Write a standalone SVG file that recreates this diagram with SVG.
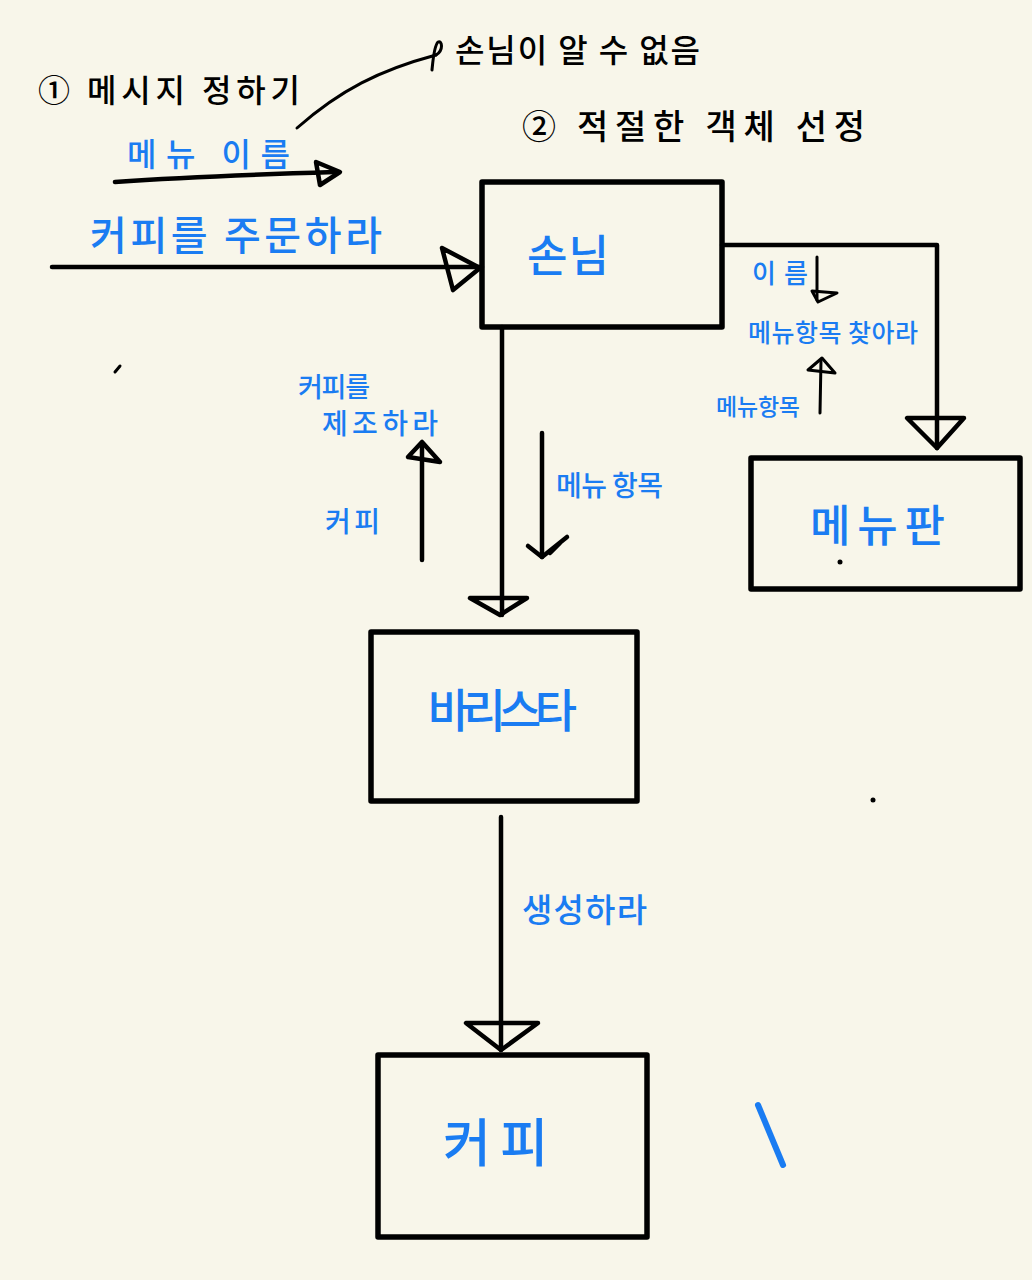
<svg xmlns="http://www.w3.org/2000/svg" width="1032" height="1280" viewBox="0 0 1032 1280">
<style>
.box{fill:none;stroke:#000;stroke-width:5.5;stroke-linejoin:round}
.ln{fill:none;stroke:#000;stroke-width:4.5;stroke-linecap:round;stroke-linejoin:round}
.thin{fill:none;stroke:#000;stroke-width:3;stroke-linecap:round;stroke-linejoin:round}
.hd{fill:none;stroke:#000;stroke-width:4.5;stroke-linejoin:round;stroke-linecap:round}
.k{font-family:"Noto Sans CJK KR","Noto Sans",sans-serif;fill:#000;font-weight:500}
.b{font-family:"Noto Sans CJK KR","Noto Sans",sans-serif;fill:#1a7cf2;font-weight:500}
</style>
<rect width="1032" height="1280" fill="#f8f6ea"/>

<g id="annotations">
<text class="k" x="38" y="102" font-size="32" textLength="262" lengthAdjust="spacing">① 메시지 정하기</text>
<text class="k" x="455" y="62" font-size="32" textLength="245" lengthAdjust="spacing">손님이 알 수 없음</text>
<text class="k" x="522" y="139" font-size="34" textLength="343" lengthAdjust="spacing">② 적절한 객체 선정</text>
<path class="thin" d="M297 128 C340 90 380 70 436 55"/>
<path class="thin" d="M436 55 C444 50 442 40 438 42 C434 46 433 60 432 70"/>
<path class="thin" d="M115 372 L120 366"/>
<circle cx="840" cy="562" r="2.5" fill="#000"/>
<circle cx="873" cy="800" r="2.5" fill="#000"/>
<path d="M758 1105 L783 1165" stroke="#1a7cf2" stroke-width="6" stroke-linecap="round" fill="none"/>
</g>

<g id="connectors">
<path class="ln" d="M115 182 C200 176 270 174 338 172"/>
<path class="hd" d="M316 162 L340 172 L320 185 Z"/>
<path class="ln" d="M52 267 L482 267"/>
<path class="hd" d="M442 248 L480 268 L453 290 Z"/>
<path class="ln" d="M502 327 L502 615"/>
<path class="hd" d="M470 598 L527 598 L500 615 Z"/>
<path class="ln" d="M722 245 L937 245 L937 448"/>
<path class="hd" d="M907 418 L964 418 L937 448 Z"/>
<path class="ln" d="M501 817 L501 1050"/>
<path class="hd" d="M466 1023 L538 1023 L501 1050 Z"/>
<path class="ln" d="M422 560 L422 444"/>
<path class="hd" d="M422 442 L408 457 L440 462 Z"/>
<path class="ln" d="M542 433 L542 557"/>
<path class="hd" d="M528 546 L542 557 L567 537 M550 553 L560 543"/>
<path class="thin" d="M817 257 L817 300"/>
<path class="thin" d="M812 291 L837 293 L818 302 Z"/>
<path class="thin" d="M820 413 L821 360"/>
<path class="thin" d="M822 358 L808 370 L835 373 Z"/>
</g>

<g id="labels">
<text class="b" x="127" y="166" font-size="32" textLength="163" lengthAdjust="spacing">메뉴 이름</text>
<text class="b" x="90" y="250" font-size="40" textLength="292" lengthAdjust="spacing">커피를 주문하라</text>
<text class="b" x="752" y="283" font-size="26" textLength="56" lengthAdjust="spacing">이름</text>
<text class="b" x="748" y="342" font-size="25" textLength="170" lengthAdjust="spacing">메뉴항목 찾아라</text>
<text class="b" x="716" y="415" font-size="23" textLength="84" lengthAdjust="spacing">메뉴항목</text>
<text class="b" x="298" y="397" font-size="27" textLength="72" lengthAdjust="spacing">커피를</text>
<text class="b" x="322" y="434" font-size="28" textLength="116" lengthAdjust="spacing">제조하라</text>
<text class="b" x="325" y="532" font-size="28" textLength="55" lengthAdjust="spacing">커피</text>
<text class="b" x="556" y="496" font-size="28" textLength="107" lengthAdjust="spacing">메뉴 항목</text>
<text class="b" x="522" y="922" font-size="33" textLength="125" lengthAdjust="spacing">생성하라</text>
</g>

<g id="node-customer">
<rect class="box" x="482" y="182" width="240" height="145"/>
<text class="b" x="527" y="272" font-size="44" textLength="82" lengthAdjust="spacing">손님</text>
</g>
<g id="node-menu">
<rect class="box" x="751" y="458" width="269" height="131"/>
<text class="b" x="810" y="542" font-size="44" textLength="135" lengthAdjust="spacing">메뉴판</text>
</g>
<g id="node-barista">
<rect class="box" x="371" y="632" width="266" height="169"/>
<text class="b" x="428" y="727" font-size="46" textLength="149" lengthAdjust="spacing">바리스타</text>
</g>
<g id="node-coffee">
<rect class="box" x="378" y="1055" width="269" height="182"/>
<text class="b" x="443" y="1162" font-size="52" textLength="105" lengthAdjust="spacing">커피</text>
</g>
</svg>
